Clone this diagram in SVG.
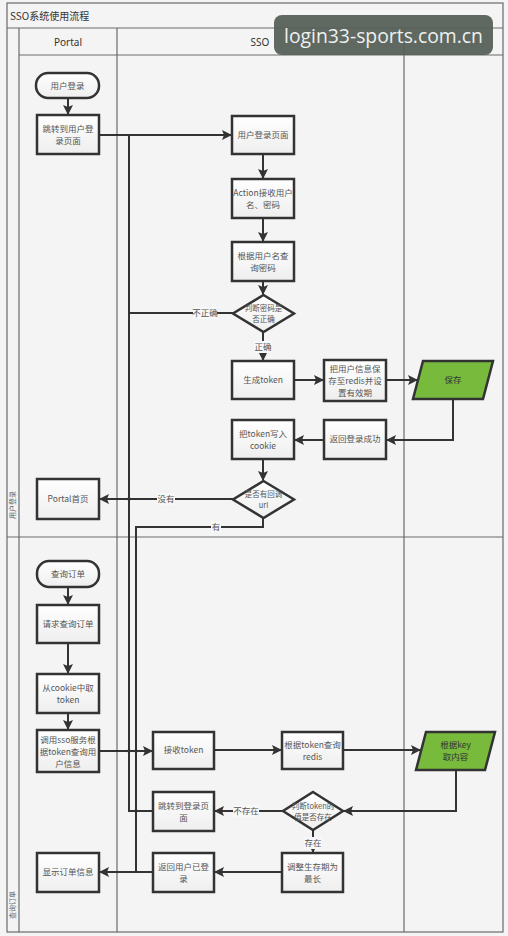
<svg xmlns="http://www.w3.org/2000/svg" width="508" height="936" viewBox="0 0 508 936">
<style>
.frame{fill:none;stroke:#6a6a6a;stroke-width:1.2}
.box{fill:url(#g);stroke:#333;stroke-width:2.5}
.green{fill:#78bb3c;stroke:#333;stroke-width:2.5}
.c{fill:none;stroke:#333;stroke-width:2}
.t{font-family:"Noto Sans CJK SC","Noto Sans",sans-serif;font-size:8.5px;fill:#555;text-anchor:middle}
.d{font-family:"Noto Sans CJK SC","Noto Sans",sans-serif;font-size:7.5px;fill:#555;text-anchor:middle}
.lbl{font-family:"Noto Sans CJK SC","Noto Sans",sans-serif;font-size:8.5px;fill:#555;text-anchor:middle}
.hd{font-family:"Noto Sans","Noto Sans CJK SC",sans-serif;font-size:10px;fill:#333;text-anchor:middle}
.lane{font-family:"Noto Sans CJK SC",sans-serif;font-size:7px;fill:#666;text-anchor:middle}
</style>
<defs>
<linearGradient id="g" x1="0" y1="0" x2="0" y2="1">
<stop offset="0" stop-color="#ffffff"/>
<stop offset="1" stop-color="#eeeeee"/>
</linearGradient>
<marker id="a" markerUnits="userSpaceOnUse" markerWidth="10" markerHeight="10" viewBox="0 0 10 10" refX="9" refY="5" orient="auto">
<path d="M0,0 L10,5 L0,10 L2,5 Z" fill="#333"/>
</marker>
</defs>
<rect x="0" y="0" width="508" height="936" fill="#f3f4f3"/>
<g id="frame">
<rect class="frame" x="7" y="3" width="496" height="929" fill="#f7f8f7"/>
<line class="frame" x1="7" y1="28" x2="503" y2="28"/>
<line class="frame" x1="19" y1="28" x2="19" y2="932"/>
<line class="frame" x1="19" y1="55" x2="503" y2="55"/>
<line class="frame" x1="117" y1="28" x2="117" y2="932"/>
<line class="frame" x1="404" y1="28" x2="404" y2="932"/>
<line class="frame" x1="7" y1="537" x2="503" y2="537"/>
<text x="10" y="20" style="font-family:'Noto Sans CJK SC',sans-serif;font-size:10px;fill:#333">SSO系统使用流程</text>
<text class="hd" x="68" y="46">Portal</text>
<text class="hd" x="260" y="46">SSO</text>
<text class="lane" transform="translate(15,505) rotate(-90)">用户登录</text>
<text class="lane" transform="translate(15,905) rotate(-90)">查询订单</text>
</g>
<g id="connectors">
<path class="c" d="M68,98 V114" marker-end="url(#a)"/>
<path class="c" d="M99,135 H231" marker-end="url(#a)"/>
<path class="c" d="M263,154 V178" marker-end="url(#a)"/>
<path class="c" d="M263,218 V241" marker-end="url(#a)"/>
<path class="c" d="M263,281 V294" marker-end="url(#a)"/>
<path class="c" d="M233,313 H129 V135"/>
<path class="c" d="M153,811 H129 V313"/>
<path class="c" d="M263,332 V360" marker-end="url(#a)"/>
<path class="c" d="M294,380 H323" marker-end="url(#a)"/>
<path class="c" d="M386,380 H417" marker-end="url(#a)"/>
<path class="c" d="M453,399 V440 H387" marker-end="url(#a)"/>
<path class="c" d="M324,440 H295" marker-end="url(#a)"/>
<path class="c" d="M263,459 V480" marker-end="url(#a)"/>
<path class="c" d="M233,499 H100" marker-end="url(#a)"/>
<path class="c" d="M263,518 V527 H136 V872"/>
<path class="c" d="M68,587 V604" marker-end="url(#a)"/>
<path class="c" d="M68,643 V673" marker-end="url(#a)"/>
<path class="c" d="M68,713 V729" marker-end="url(#a)"/>
<path class="c" d="M99,751 H152" marker-end="url(#a)"/>
<path class="c" d="M214,750 H281" marker-end="url(#a)"/>
<path class="c" d="M343,750 H420" marker-end="url(#a)"/>
<path class="c" d="M456,770 V811 H344" marker-end="url(#a)"/>
<path class="c" d="M283,811 H215" marker-end="url(#a)"/>
<path class="c" d="M313,830 V852" marker-end="url(#a)"/>
<path class="c" d="M282,872 H215" marker-end="url(#a)"/>
<path class="c" d="M153,872 H100" marker-end="url(#a)"/>
<circle cx="129" cy="499" r="1.8" fill="#333"/>
<circle cx="129" cy="751" r="1.8" fill="#333"/>
<circle cx="136" cy="751" r="1.8" fill="#333"/>
<circle cx="136" cy="811" r="1.8" fill="#333"/>
<rect x="193" y="307" width="24" height="12" fill="#f7f8f7"/>
<text class="lbl" x="205" y="316">不正确</text>
<rect x="254" y="341" width="18" height="12" fill="#f7f8f7"/>
<text class="lbl" x="263" y="350">正确</text>
<rect x="157" y="493" width="18" height="12" fill="#f7f8f7"/>
<text class="lbl" x="166" y="502">没有</text>
<rect x="211" y="521" width="10" height="12" fill="#f7f8f7"/>
<text class="lbl" x="216" y="530">有</text>
<rect x="233" y="805" width="26" height="12" fill="#f7f8f7"/>
<text class="lbl" x="246" y="814">不存在</text>
<rect x="304" y="837" width="18" height="12" fill="#f7f8f7"/>
<text class="lbl" x="313" y="846">存在</text>
</g>
<g id="n1"><rect class="box" x="36" y="73" width="63" height="25" rx="12"/><text class="t" x="67.5" y="88.5">用户登录</text></g>
<g id="n2"><rect class="box" x="37" y="115" width="62" height="39"/><text class="t" x="68" y="132">跳转到用户登</text><text class="t" x="68" y="144">录页面</text></g>
<g id="n3"><rect class="box" x="232" y="116" width="62" height="38"/><text class="t" x="263" y="138">用户登录页面</text></g>
<g id="n4"><rect class="box" x="232" y="179" width="62" height="39"/><text class="t" x="263" y="196">Action接收用户</text><text class="t" x="263" y="208">名、密码</text></g>
<g id="n5"><rect class="box" x="232" y="242" width="62" height="39"/><text class="t" x="263" y="259">根据用户名查</text><text class="t" x="263" y="271">询密码</text></g>
<g id="n6"><polygon class="box" points="263.5,295 294,313.5 263.5,332 233,313.5"/><text class="d" x="263.5" y="311">判断密码是</text><text class="d" x="263.5" y="322">否正确</text></g>
<g id="n7"><rect class="box" x="232" y="361" width="62" height="38"/><text class="t" x="263" y="383">生成token</text></g>
<g id="n8"><rect class="box" x="324" y="360" width="62" height="41"/><text class="t" x="355" y="372">把用户信息保</text><text class="t" x="355" y="384">存至redis并设</text><text class="t" x="355" y="396">置有效期</text></g>
<g id="n9"><polygon class="green" points="423,361 493,361 483,399 413,399"/><text class="t" x="453" y="383" style="fill:#333">保存</text></g>
<g id="n10"><rect class="box" x="324" y="420" width="62" height="39"/><text class="t" x="355" y="442">返回登录成功</text></g>
<g id="n11"><rect class="box" x="232" y="420" width="62" height="39"/><text class="t" x="263" y="437">把token写入</text><text class="t" x="263" y="449">cookie</text></g>
<g id="n12"><polygon class="box" points="263.5,481 294,499.5 263.5,518 233,499.5"/><text class="d" x="263.5" y="497">是否有回调</text><text class="d" x="263.5" y="508">url</text></g>
<g id="n13"><rect class="box" x="37" y="479" width="62" height="40"/><text class="t" x="68" y="502">Portal首页</text></g>
<g id="n14"><rect class="box" x="37" y="561" width="62" height="26" rx="12"/><text class="t" x="68" y="577">查询订单</text></g>
<g id="n15"><rect class="box" x="37" y="605" width="62" height="38"/><text class="t" x="68" y="627">请求查询订单</text></g>
<g id="n16"><rect class="box" x="37" y="674" width="62" height="39"/><text class="t" x="68" y="691">从cookie中取</text><text class="t" x="68" y="703">token</text></g>
<g id="n17"><rect class="box" x="37" y="730" width="62" height="42"/><text class="t" x="68" y="743">调用sso服务根</text><text class="t" x="68" y="755">据token查询用</text><text class="t" x="68" y="767">户信息</text></g>
<g id="n18"><rect class="box" x="153" y="732" width="61" height="37"/><text class="t" x="183.5" y="753">接收token</text></g>
<g id="n19"><rect class="box" x="282" y="732" width="61" height="37"/><text class="t" x="312.5" y="748">根据token查询</text><text class="t" x="312.5" y="760">redis</text></g>
<g id="n20"><polygon class="green" points="426,732 495,732 485,770 416,770"/><text class="t" x="455.5" y="748" style="fill:#333">根据key</text><text class="t" x="455.5" y="760" style="fill:#333">取内容</text></g>
<g id="n21"><rect class="box" x="153" y="792" width="61" height="39"/><text class="t" x="183.5" y="809">跳转到登录页</text><text class="t" x="183.5" y="821">面</text></g>
<g id="n22"><polygon class="box" points="313,792 343,811 313,830 283,811"/><text class="d" x="313" y="809">判断token的</text><text class="d" x="313" y="820">值是否存在</text></g>
<g id="n23"><rect class="box" x="282" y="853" width="61" height="39"/><text class="t" x="312.5" y="870">调整生存期为</text><text class="t" x="312.5" y="882">最长</text></g>
<g id="n24"><rect class="box" x="153" y="853" width="61" height="39"/><text class="t" x="183.5" y="870">返回用户已登</text><text class="t" x="183.5" y="882">录</text></g>
<g id="n25"><rect class="box" x="37" y="853" width="62" height="39"/><text class="t" x="68" y="875">显示订单信息</text></g>
<g id="watermark">
<rect x="274" y="15" width="219" height="40" rx="8" fill="#566059" opacity="0.95"/>
<text x="284" y="43" textLength="199" lengthAdjust="spacingAndGlyphs" style="font-family:'Open Sans','Noto Sans',sans-serif;font-size:20px;fill:#eef0ee">login33-sports.com.cn</text>
</g>
</svg>
